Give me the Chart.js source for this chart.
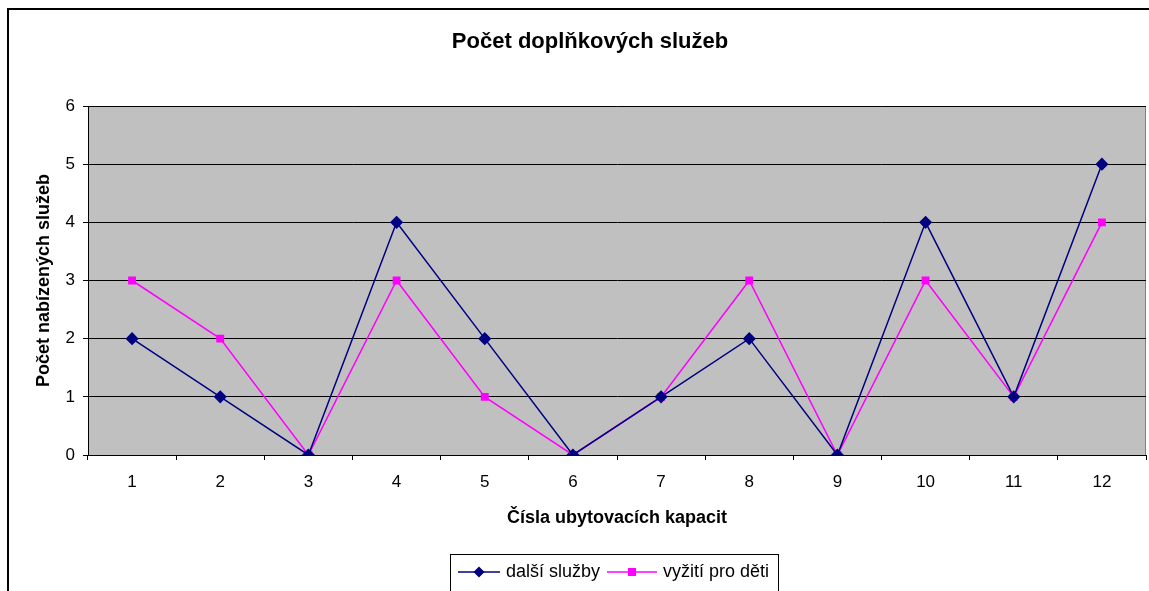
<!DOCTYPE html>
<html>
<head>
<meta charset="utf-8">
<script src="https://cdn.jsdelivr.net/npm/chart.js@4"></script>
<style>
  html, body { margin: 0; padding: 0; background: #fff; overflow: hidden; }
  #wrap { width: 1153px; height: 591px; position: relative; }
</style>
</head>
<body>
<div id="wrap"><canvas id="chart"></canvas></div>
<script>
const categories = ["1","2","3","4","5","6","7","8","9","10","11","12"];
const dalsiSluzby = [2, 1, 0, 4, 2, 0, 1, 2, 0, 4, 1, 5];
const vyzitiProDeti = [3, 2, 0, 3, 1, 0, 1, 3, 0, 3, 1, 4];
const yTicks = [0, 1, 2, 3, 4, 5, 6];

const FONT = "'Liberation Sans', Arial, sans-serif";

const frame = {
  id: "frame",
  beforeDraw(chart) {
    const { ctx, chartArea: a } = chart;
    ctx.save();
    ctx.fillStyle = "#C0C0C0";
    ctx.fillRect(a.left, a.top, a.right - a.left, a.bottom - a.top);
    ctx.strokeStyle = "#808080";
    ctx.lineWidth = 1;
    ctx.beginPath();
    ctx.moveTo(a.left, a.top + 0.5);
    ctx.lineTo(a.right - 0.5, a.top + 0.5);
    ctx.lineTo(a.right - 0.5, a.bottom);
    ctx.stroke();
    // outer chart border
    ctx.strokeStyle = "#000";
    ctx.lineWidth = 2;
    ctx.beginPath();
    ctx.moveTo(8, 600);
    ctx.lineTo(8, 9);
    ctx.lineTo(1160, 9);
    ctx.stroke();
    // title
    ctx.fillStyle = "#000";
    ctx.font = "bold 22px " + FONT;
    ctx.textAlign = "center";
    ctx.textBaseline = "middle";
    ctx.fillText("Počet doplňkových služeb", 590, 42);
    ctx.restore();
  },
  afterDraw(chart) {
    const { ctx } = chart;
    const box = { x: 450.5, y: 554.5, w: 328, h: 40 };
    ctx.save();
    ctx.fillStyle = "#fff";
    ctx.strokeStyle = "#000";
    ctx.lineWidth = 1;
    ctx.fillRect(box.x, box.y, box.w, box.h);
    ctx.strokeRect(box.x, box.y, box.w, box.h);
    ctx.font = "18px " + FONT;
    ctx.textBaseline = "middle";
    ctx.textAlign = "left";
    const cy = 572;
    const items = [
      { ds: chart.data.datasets[0], x0: 458, x1: 500 },
      { ds: chart.data.datasets[1], x0: 607, x1: 657 }
    ];
    items.forEach(it => {
      const ds = it.ds;
      ctx.strokeStyle = ds.borderColor;
      ctx.lineWidth = 1.5;
      ctx.beginPath();
      ctx.moveTo(it.x0, cy);
      ctx.lineTo(it.x1, cy);
      ctx.stroke();
      ctx.fillStyle = ds.pointBackgroundColor;
      const mx = (it.x0 + it.x1) / 2;
      if (ds.pointStyle === "rectRot") {
        const r = 5.5;
        ctx.beginPath();
        ctx.moveTo(mx, cy - r);
        ctx.lineTo(mx + r, cy);
        ctx.lineTo(mx, cy + r);
        ctx.lineTo(mx - r, cy);
        ctx.closePath();
        ctx.fill();
      } else {
        ctx.fillRect(mx - 4, cy - 4, 8, 8);
      }
      ctx.fillStyle = "#000";
      ctx.fillText(ds.label, it.x1 + 6, cy);
    });
    ctx.restore();
  }
};

new Chart(document.getElementById("chart"), {
  type: "line",
  data: {
    labels: categories,
    datasets: [
      {
        label: "další služby",
        data: dalsiSluzby,
        borderColor: "#000080",
        backgroundColor: "#000080",
        pointBackgroundColor: "#000080",
        pointBorderColor: "#000080",
        pointStyle: "rectRot",
        pointRadius: 5.5,
        borderWidth: 1.5,
        tension: 0
      },
      {
        label: "vyžití pro děti",
        data: vyzitiProDeti,
        borderColor: "#FF00FF",
        backgroundColor: "#FF00FF",
        pointBackgroundColor: "#FF00FF",
        pointBorderColor: "#FF00FF",
        pointStyle: "rect",
        pointRadius: 4.5,
        borderWidth: 1.5,
        tension: 0
      }
    ]
  },
  options: {
    responsive: true,
    maintainAspectRatio: false,
    animation: false,
    layout: { padding: { top: 106, right: 0, left: 0, bottom: 0 } },
    plugins: {
      legend: { display: false },
      title: { display: false },
      tooltip: { enabled: false }
    },
    scales: {
      x: {
        offset: true,
        afterFit: s => { s.height = 136; },
        grid: {
          offset: true,
          drawOnChartArea: false,
          drawTicks: true,
          tickLength: 5,
          color: "#000"
        },
        border: { color: "#000", width: 1 },
        ticks: { color: "#000", padding: 12, maxRotation: 0, font: { family: FONT, size: 17 } },
        title: {
          display: true,
          text: "Čísla ubytovacích kapacit",
          color: "#000",
          font: { family: FONT, size: 18, weight: "bold" },
          padding: { top: 0, bottom: 62 }
        }
      },
      y: {
        min: 0,
        max: 6,
        afterFit: s => { s.width = 88; },
        afterBuildTicks: s => { s.ticks = yTicks.map(v => ({ value: v })); },
        grid: {
          color: "#000",
          tickLength: 5,
          lineWidth: 1
        },
        border: { color: "#000", width: 1 },
        ticks: { color: "#000", padding: 8, font: { family: FONT, size: 17 } },
        title: {
          display: true,
          text: "Počet nabízených služeb",
          color: "#000",
          font: { family: FONT, size: 18, weight: "bold" },
          padding: { top: 33, bottom: 0 }
        }
      }
    }
  },
  plugins: [frame]
});
</script>
</body>
</html>
